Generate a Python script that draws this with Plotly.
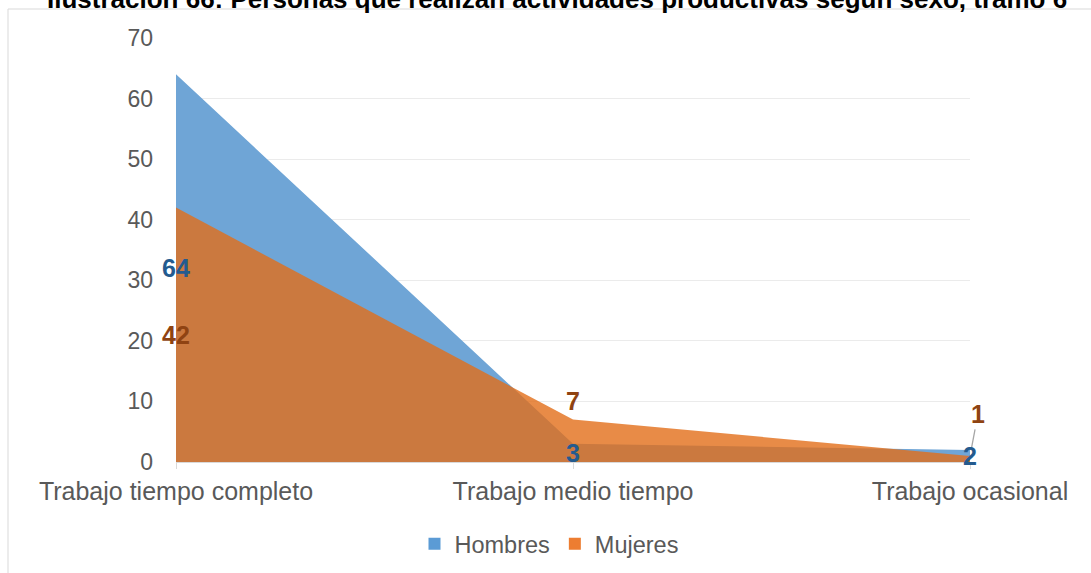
import plotly.graph_objects as go

categories = ["Trabajo tiempo completo", "Trabajo medio tiempo", "Trabajo ocasional"]
hombres = [64, 3, 2]
mujeres = [42, 7, 1]
y_ticks = [0, 10, 20, 30, 40, 50, 60, 70]
title_text = "Ilustración 66: Personas que realizan actividades productivas según sexo, tramo 6"

FONT = "Liberation Sans, Arial, sans-serif"
BLUE_FILL = "rgb(111,165,214)"
ORANGE_FILL = "rgba(226,110,25,0.8)"
BLUE_LBL = "#245B8F"
BROWN_LBL = "#8F4312"
GRAY_TXT = "#595959"

fig = go.Figure()
fig.add_trace(go.Scatter(x=categories, y=hombres, name="Hombres", mode="lines",
                         line=dict(width=0, color=BLUE_FILL), fill="tozeroy",
                         fillcolor=BLUE_FILL, showlegend=False, hoverinfo="x+y+name"))
fig.add_trace(go.Scatter(x=categories, y=mujeres, name="Mujeres", mode="lines",
                         line=dict(width=0, color=ORANGE_FILL), fill="tozeroy",
                         fillcolor=ORANGE_FILL, showlegend=False, hoverinfo="x+y+name"))
# legend entries (square swatches)
fig.add_trace(go.Scatter(x=[None], y=[None], name="Hombres", mode="markers",
                         marker=dict(symbol="square", size=13, color="#5B9BD5")))
fig.add_trace(go.Scatter(x=[None], y=[None], name="Mujeres", mode="markers",
                         marker=dict(symbol="square", size=13, color="#ED7D31")))

annotations = []
# ocasional "1" with leader line
annotations.append(dict(x=categories[2], y=mujeres[2], text=f"<b>{mujeres[2]}</b>",
                        showarrow=True, arrowhead=0, arrowwidth=1.3, arrowcolor="#A6A6A6",
                        ax=8, ay=-42, standoff=6,
                        font=dict(family=FONT, size=25, color=BROWN_LBL)))
for i, v in enumerate(hombres):
    annotations.append(dict(x=categories[i], y=v / 2, text=f"<b>{v}</b>", showarrow=False,
                            font=dict(family=FONT, size=25, color=BLUE_LBL)))
for i, v in enumerate(mujeres[:2]):
    if i == 0:
        annotations.append(dict(x=categories[i], y=v / 2, text=f"<b>{v}</b>", showarrow=False,
                                font=dict(family=FONT, size=25, color=BROWN_LBL)))
    else:
        annotations.append(dict(x=categories[i], y=v, yshift=19, text=f"<b>{v}</b>",
                                showarrow=False,
                                font=dict(family=FONT, size=25, color=BROWN_LBL)))
# title (clipped at the top as in the source)
annotations.append(dict(x=(557 - 176) / 794, y=(462 + 1) / 424, xref="paper", yref="paper",
                        xanchor="center", yanchor="middle", showarrow=False,
                        text=f"<b>{title_text}</b>",
                        font=dict(family=FONT, size=26, color="#000000")))

fig.update_layout(
    width=1091, height=573,
    margin=dict(l=176, r=121, t=38, b=111, autoexpand=False),
    paper_bgcolor="white", plot_bgcolor="white",
    font=dict(family=FONT, color=GRAY_TXT),
    annotations=annotations,
    shapes=[dict(type="rect", xref="paper", yref="paper",
                 x0=(8 - 176) / 794, x1=2.0, y0=-1.0, y1=(462 - 9) / 424,
                 line=dict(color="#D9D9D9", width=1), fillcolor="rgba(0,0,0,0)", layer="below")],
    legend=dict(orientation="h", x=(549 - 176) / 794, xanchor="center",
                y=(462 - 544) / 424, yanchor="middle",
                font=dict(family=FONT, size=23.5, color=GRAY_TXT),
                itemsizing="constant", itemwidth=30, tracegroupgap=0),
    xaxis=dict(type="category", range=[0, 2], showgrid=False, automargin=False,
               showline=True, linecolor="#D9D9D9", linewidth=1,
               ticks="outside", ticklen=6, tickcolor="#D9D9D9",
               tickfont=dict(family=FONT, size=25, color=GRAY_TXT),
               ticklabelstandoff=1, zeroline=False),
    yaxis=dict(range=[0, 70], tickvals=y_ticks, showgrid=True, gridcolor="#EBEBEB",
               gridwidth=1, showline=False, zeroline=False, automargin=False,
               tickfont=dict(family=FONT, size=23, color=GRAY_TXT),
               ticklabelstandoff=22),
    showlegend=True,
)

fig.write_html("out.html", config={"displayModeBar": False},
               post_script="document.body.style.margin='0';")
